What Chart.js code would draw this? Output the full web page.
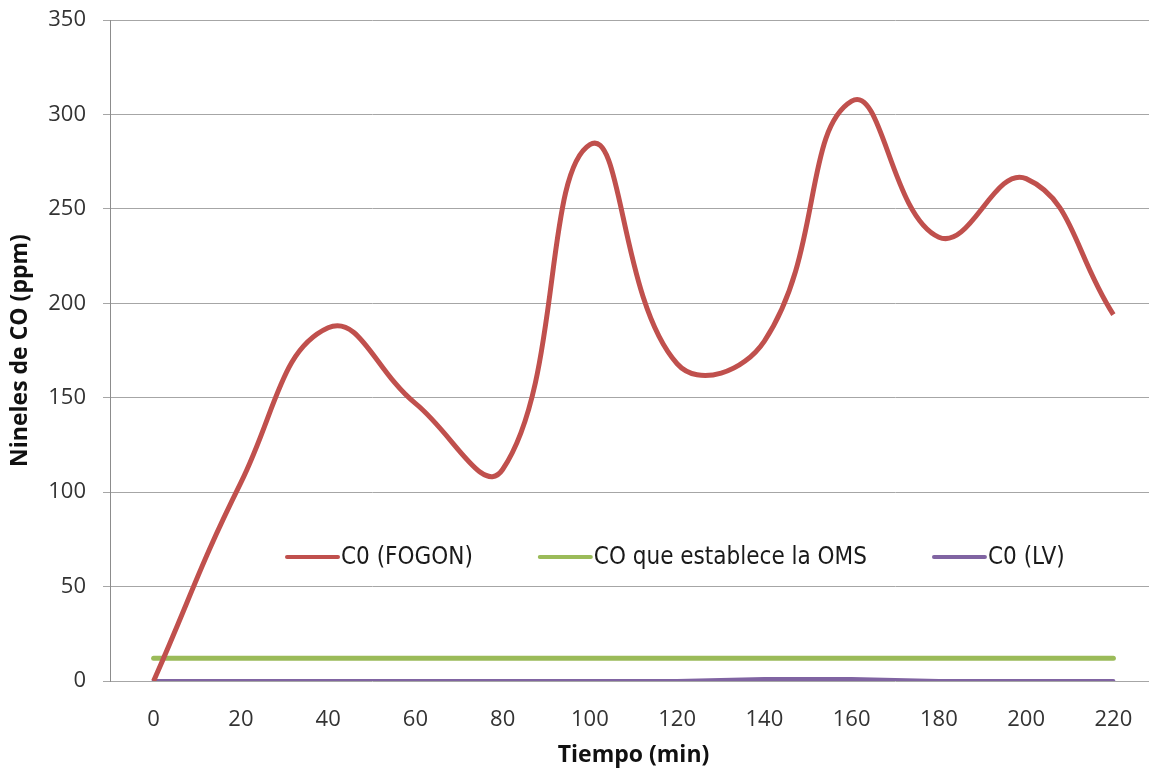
<!DOCTYPE html>
<html>
<head>
<meta charset="utf-8">
<script src="https://cdn.jsdelivr.net/npm/chart.js@4.4.0/dist/chart.umd.min.js"></script>
<style>
  html, body { margin: 0; padding: 0; background: #fff; overflow: hidden; }
</style>
</head>
<body>
<canvas id="chart" width="1157" height="769"></canvas>
<script>
  const minutes = ["0", "20", "40", "60", "80", "100", "120", "140", "160", "180", "200", "220"];
  const coFogon = [0, 105, 187, 147, 112, 284, 168, 180, 307, 235, 266, 194];
  const coOms = [12, 12, 12, 12, 12, 12, 12, 12, 12, 12, 12, 12];
  const coLv = [0, 0, 0, 0, 0, 0, 0, 1, 1, 0, 0, 0];
  const yTicks = [0, 50, 100, 150, 200, 250, 300, 350];

  const FONT = "'Open Sans', sans-serif";
  const LEGEND_FONT = "'Liberation Sans Narrow', 'DejaVu Sans Condensed', sans-serif";

  // legend drawn inside the plot, near the bottom
  const insideLegend = {
    id: "insideLegend",
    afterDatasetsDraw(chart) {
      const { ctx, chartArea } = chart;
      ctx.save();
      ctx.font = `24px ${LEGEND_FONT}`;
      ctx.textBaseline = "middle";
      ctx.fillStyle = "#1a1a1a";
      const y = chartArea.top + 537;
      let x = chartArea.left + 177;
      chart.data.datasets.forEach((ds) => {
        ctx.strokeStyle = ds.borderColor;
        ctx.lineWidth = 4;
        ctx.lineCap = "round";
        ctx.beginPath();
        ctx.moveTo(x, y);
        ctx.lineTo(x + 51, y);
        ctx.stroke();
        x += 54;
        ctx.fillText(ds.label, x, y + 1);
        x += ctx.measureText(ds.label).width + 67;
      });
      ctx.restore();
    },
  };

  new Chart(document.getElementById("chart"), {
    type: "line",
    data: {
      labels: minutes,
      datasets: [
        {
          label: "C0 (FOGON)",
          data: coFogon,
          borderColor: "#C0504D",
          borderWidth: 5,
          tension: 0.45,
          pointRadius: 0,
        },
        {
          label: "CO que establece la OMS",
          data: coOms,
          borderColor: "#9BBB59",
          borderWidth: 5,
          tension: 0,
          pointRadius: 0,
          borderCapStyle: "round",
        },
        {
          label: "C0 (LV)",
          data: coLv,
          borderColor: "#8064A2",
          borderWidth: 4,
          tension: 0,
          pointRadius: 0,
          borderCapStyle: "round",
        },
      ],
    },
    options: {
      responsive: false,
      animation: false,
      layout: { padding: { top: 20, right: 0, bottom: 0, left: 0 } },
      plugins: {
        legend: { display: false },
        tooltip: { enabled: false },
      },
      scales: {
        x: {
          type: "category",
          offset: true,
          grid: { display: false },
          border: { display: false },
          ticks: {
            color: "#333",
            font: { family: FONT, size: 22 },
            padding: 18,
            maxRotation: 0,
          },
          title: {
            display: true,
            text: "Tiempo (min)",
            color: "#111",
            font: { family: FONT, size: 23, weight: "bold" },
            padding: { top: 0, bottom: 0 },
          },
          afterFit(scale) {
            scale.height = 88;
            scale.paddingLeft = 0;
            scale.paddingRight = 0;
          },
        },
        y: {
          min: 0,
          max: 350,
          afterBuildTicks(scale) {
            scale.ticks = yTicks.map((v) => ({ value: v }));
          },
          grid: {
            color: "#a6a6a6",
            lineWidth: 1,
            tickLength: 7,
          },
          border: { display: true, color: "#8c8c8c", width: 1 },
          ticks: {
            color: "#333",
            font: { family: FONT, size: 22 },
            padding: 17,
          },
          title: {
            display: true,
            text: "Nineles de CO (ppm)",
            color: "#111",
            font: { family: FONT, size: 23, weight: "bold" },
            padding: { top: 7, bottom: 0 },
          },
          afterFit(scale) {
            scale.width = 110;
            scale.paddingTop = 0;
            scale.paddingBottom = 0;
          },
        },
      },
    },
    plugins: [insideLegend],
  });
</script>
</body>
</html>
